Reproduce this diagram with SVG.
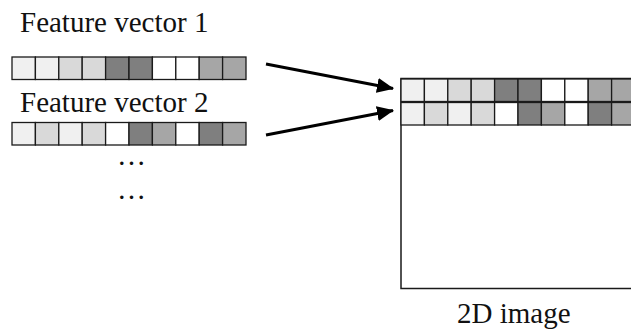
<svg xmlns="http://www.w3.org/2000/svg" width="631" height="330" viewBox="0 0 631 330">
  <style>
    .lbl { font-family: "Liberation Serif", "Times New Roman", serif; font-size: 29px; fill: #111; }
    .c { stroke: #1a1a1a; stroke-width: 1.3; }
    .v0 { fill: #f0f0f0; }
    .v1 { fill: #d9d9d9; }
    .v2 { fill: #7f7f7f; }
    .v3 { fill: #ffffff; }
    .v4 { fill: #a6a6a6; }
    .edge { stroke: #000; stroke-width: 3; fill: none; marker-end: url(#head); }
  </style>
  <defs>
    <marker id="head" viewBox="0 0 17 15" refX="16" refY="7.5" markerWidth="17" markerHeight="15" markerUnits="userSpaceOnUse" orient="auto">
      <path d="M0,0 L17,7.5 L0,15 Z" fill="#000"/>
    </marker>
    <!-- pixel rows, 10 cells of 23.4 x 22.5 -->
    <g id="rowA">
      <rect class="c v0" x="0" y="0" width="23.4" height="22.5"/>
      <rect class="c v0" x="23.4" y="0" width="23.4" height="22.5"/>
      <rect class="c v1" x="46.8" y="0" width="23.4" height="22.5"/>
      <rect class="c v1" x="70.2" y="0" width="23.4" height="22.5"/>
      <rect class="c v2" x="93.6" y="0" width="23.4" height="22.5"/>
      <rect class="c v2" x="117" y="0" width="23.4" height="22.5"/>
      <rect class="c v3" x="140.4" y="0" width="23.4" height="22.5"/>
      <rect class="c v3" x="163.8" y="0" width="23.4" height="22.5"/>
      <rect class="c v4" x="187.2" y="0" width="23.4" height="22.5"/>
      <rect class="c v4" x="210.6" y="0" width="23.4" height="22.5"/>
    </g>
    <g id="rowB">
      <rect class="c v0" x="0" y="0" width="23.4" height="22.5"/>
      <rect class="c v1" x="23.4" y="0" width="23.4" height="22.5"/>
      <rect class="c v0" x="46.8" y="0" width="23.4" height="22.5"/>
      <rect class="c v1" x="70.2" y="0" width="23.4" height="22.5"/>
      <rect class="c v3" x="93.6" y="0" width="23.4" height="22.5"/>
      <rect class="c v2" x="117" y="0" width="23.4" height="22.5"/>
      <rect class="c v4" x="140.4" y="0" width="23.4" height="22.5"/>
      <rect class="c v3" x="163.8" y="0" width="23.4" height="22.5"/>
      <rect class="c v2" x="187.2" y="0" width="23.4" height="22.5"/>
      <rect class="c v4" x="210.6" y="0" width="23.4" height="22.5"/>
    </g>
  </defs>

  <rect width="631" height="330" fill="#fff"/>

  <g id="vector1">
    <text class="lbl" x="20" y="32">Feature vector 1</text>
    <use href="#rowA" x="12" y="57"/>
  </g>

  <g id="vector2">
    <text class="lbl" x="20" y="112">Feature vector 2</text>
    <use href="#rowB" x="12" y="122.5"/>
  </g>

  <g id="more">
    <text class="lbl" x="117" y="165">…</text>
    <text class="lbl" x="117" y="199">…</text>
  </g>

  <g id="image2d">
    <rect x="401" y="78.5" width="240" height="210" fill="#fff" stroke="#1a1a1a" stroke-width="1.5"/>
    <use href="#rowA" x="401" y="79"/>
    <use href="#rowB" x="401" y="102.5"/>
    <text class="lbl" x="457" y="323">2D image</text>
  </g>

  <g id="connectors">
    <line class="edge" x1="266" y1="64" x2="393" y2="88.5"/>
    <line class="edge" x1="266" y1="135" x2="393" y2="110.5"/>
  </g>
</svg>
